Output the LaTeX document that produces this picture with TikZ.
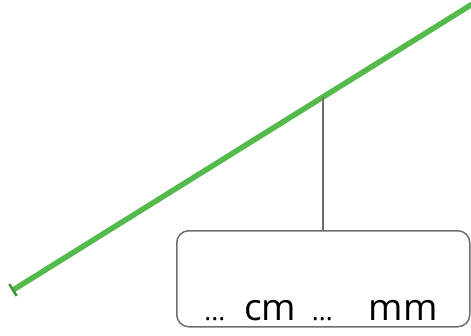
\documentclass[tikz,border=0pt]{standalone}
\usepackage{fontspec}
\setmainfont{Open Sans}
\usetikzlibrary{calc}
\definecolor{rulergreen}{RGB}{84,186,76}
\definecolor{boxgray}{RGB}{110,110,110}
\begin{document}
\begin{tikzpicture}[x=1pt,y=-1pt,
segment-line/.style = {draw={rulergreen}, line width=5.5pt},
end-tick/.style = {draw={rulergreen!80!black}, line width=2.5pt},
answer-box/.style = {draw={boxgray}, line width=1.5pt, rounded corners=12pt},
label-line/.style = {draw={boxgray}, line width=1.8pt}
]
\useasboundingbox (0,0) rectangle (471,335);
\coordinate (start) at (13,290);
\coordinate (end) at (474,3);
\coordinate (mid) at ($(start)!0.673!(end)$);
\draw[segment-line] (start) -- (end);
\draw[end-tick] ($(start)!7pt!90:(end)$) -- ($(start)!7pt!-90:(end)$);
\node[answer-box, minimum width=293pt, minimum height=96pt, anchor=north west] (box) at (176,230) {};
\draw[label-line] (mid) -- (mid |- box.north);
\node[anchor=base, font=\fontsize{37}{40}\selectfont] (answer) at (321,320)
    {{\fontsize{26}{28}\selectfont...}\, cm \,{\fontsize{26}{28}\selectfont...}\hspace{36pt}mm};
\end{tikzpicture}
\end{document}
